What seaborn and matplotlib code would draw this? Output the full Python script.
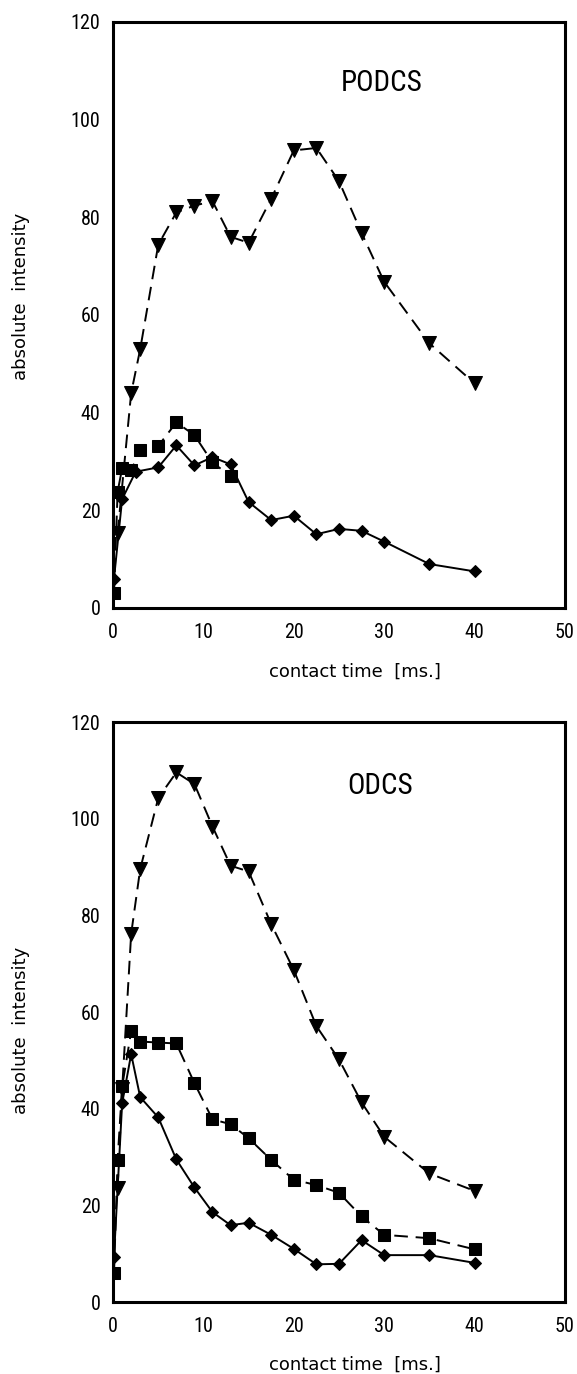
import matplotlib
matplotlib.use("Agg")
import matplotlib.pyplot as plt
from matplotlib import font_manager
import seaborn as sns
import pandas as pd

# ---------------- data ----------------
# PODCS (top panel)
podcs_tri_t = [0.5, 2, 3, 5, 7, 9, 11, 13, 15, 17.5, 20, 22.5, 25, 27.5, 30, 35, 40]
podcs_tri_v = [15.3, 44, 53, 74.4, 81, 82.4, 83.3, 76, 74.8, 83.8, 93.7, 94.2, 87.4, 76.8, 66.8, 54.2, 46]
podcs_sq_t = [0.1, 0.5, 1, 2, 3, 5, 7, 9, 11, 13]
podcs_sq_v = [3, 23.8, 28.6, 28.2, 32.4, 33.2, 38, 35.4, 29.8, 27]
podcs_dia_t = [0.1, 1, 2.5, 5, 7, 9, 11, 13, 15, 17.5, 20, 22.5, 25, 27.5, 30, 35, 40]
podcs_dia_v = [6, 22.3, 27.9, 28.8, 33.3, 29.2, 30.9, 29.4, 21.7, 18, 18.9, 15.1, 16.2, 15.8, 13.6, 9, 7.5]

# ODCS (bottom panel)
odcs_tri_t = [0.5, 1, 2, 3, 5, 7, 9, 11, 13, 15, 17.5, 20, 22.5, 25, 27.5, 30, 35, 40]
odcs_tri_v = [23.6, 44, 76.2, 89.6, 104.3, 109.6, 107.2, 98.4, 90.3, 89.1, 78.2, 68.7, 57.1, 50.2, 41.3, 34.2, 26.6, 23]
odcs_sq_t = [0.1, 0.5, 1, 2, 3, 5, 7, 9, 11, 13, 15, 17.5, 20, 22.5, 25, 27.5, 30, 35, 40]
odcs_sq_v = [5.9, 29.4, 44.6, 56, 53.9, 53.7, 53.5, 45.3, 37.8, 36.8, 33.9, 29.4, 25.3, 24.2, 22.6, 17.7, 13.9, 13.2, 10.9]
odcs_dia_t = [0.1, 1, 2, 3, 5, 7, 9, 11, 13, 15, 17.5, 20, 22.5, 25, 27.5, 30, 35, 40]
odcs_dia_v = [9.4, 41.1, 51.3, 42.4, 38.2, 29.5, 23.7, 18.6, 15.9, 16.4, 13.9, 11, 7.8, 7.9, 12.8, 9.7, 9.7, 8.1]

panel_titles = ["PODCS", "ODCS"]
x_ticks = [0, 10, 20, 30, 40, 50]
y_ticks = [0, 20, 40, 60, 80, 100, 120]
x_label = "contact time  [ms.]"
y_label = "absolute  intensity"

# ---------------- style ----------------
sns.set_style("white")
names = {f.name for f in font_manager.fontManager.ttflist}
cond = "DejaVu Sans"
for cand in ["DejaVu Sans Condensed", "Liberation Sans Narrow", "Roboto Condensed", "Open Sans Condensed"]:
    if cand in names:
        cond = cand
        break
plt.rcParams["font.family"] = [cond, "DejaVu Sans"]
plt.rcParams["text.color"] = "black"
plt.rcParams["axes.labelcolor"] = "black"
label_family = ["DejaVu Sans"]

fig = plt.figure(figsize=(5.77, 13.74), dpi=100)
ax_top = fig.add_axes([0.196, 0.5575, 0.783, 0.4265])
ax_bot = fig.add_axes([0.196, 0.0524, 0.783, 0.422])

panels = [
    (ax_top, podcs_tri_t, podcs_tri_v, podcs_sq_t, podcs_sq_v, podcs_dia_t, podcs_dia_v,
     panel_titles[0], (29.7, 107.5), 0.532),
    (ax_bot, odcs_tri_t, odcs_tri_v, odcs_sq_t, odcs_sq_v, odcs_dia_t, odcs_dia_v,
     panel_titles[1], (29.5, 106.8), 0.469),
]

dash = (0, (7, 4))
for ax, tt, tv, st, sv, dt, dv, title, tpos, ylab_y in panels:
    df_t = pd.DataFrame({"t": tt, "v": tv})
    df_s = pd.DataFrame({"t": st, "v": sv})
    df_d = pd.DataFrame({"t": dt, "v": dv})
    sns.lineplot(data=df_t, x="t", y="v", ax=ax, color="black", marker="v",
                 markersize=10, markeredgecolor="black", linewidth=1.4,
                 linestyle=dash, estimator=None, sort=False)
    sns.lineplot(data=df_s, x="t", y="v", ax=ax, color="black", marker="s",
                 markersize=9, markeredgecolor="black", linewidth=1.4,
                 linestyle=dash, estimator=None, sort=False)
    sns.lineplot(data=df_d, x="t", y="v", ax=ax, color="black", marker="D",
                 markersize=6.5, markeredgecolor="black", linewidth=1.4,
                 linestyle="-", estimator=None, sort=False)
    ax.set_xlim(0, 50)
    ax.set_ylim(0, 120)
    ax.set_xticks(x_ticks)
    ax.set_yticks(y_ticks)
    ax.tick_params(axis="both", direction="in", length=5, width=1.3,
                   labelsize=14.5, colors="black")
    ax.tick_params(axis="x", pad=11)
    ax.tick_params(axis="y", pad=9)
    for sp in ax.spines.values():
        sp.set_linewidth(2.2)
        sp.set_color("black")
        sp.set_visible(True)
    ax.set_xlabel(x_label, fontsize=13, family=label_family, color="black")
    ax.set_ylabel(y_label, fontsize=13, family=label_family, color="black")
    ax.xaxis.set_label_coords(0.535, -0.093)
    ax.yaxis.set_label_coords(-0.183, ylab_y)
    ax.text(tpos[0], tpos[1], title, fontsize=21, ha="center", va="center", color="black")
    ax.grid(False)

fig.savefig("out.png", dpi=100)
